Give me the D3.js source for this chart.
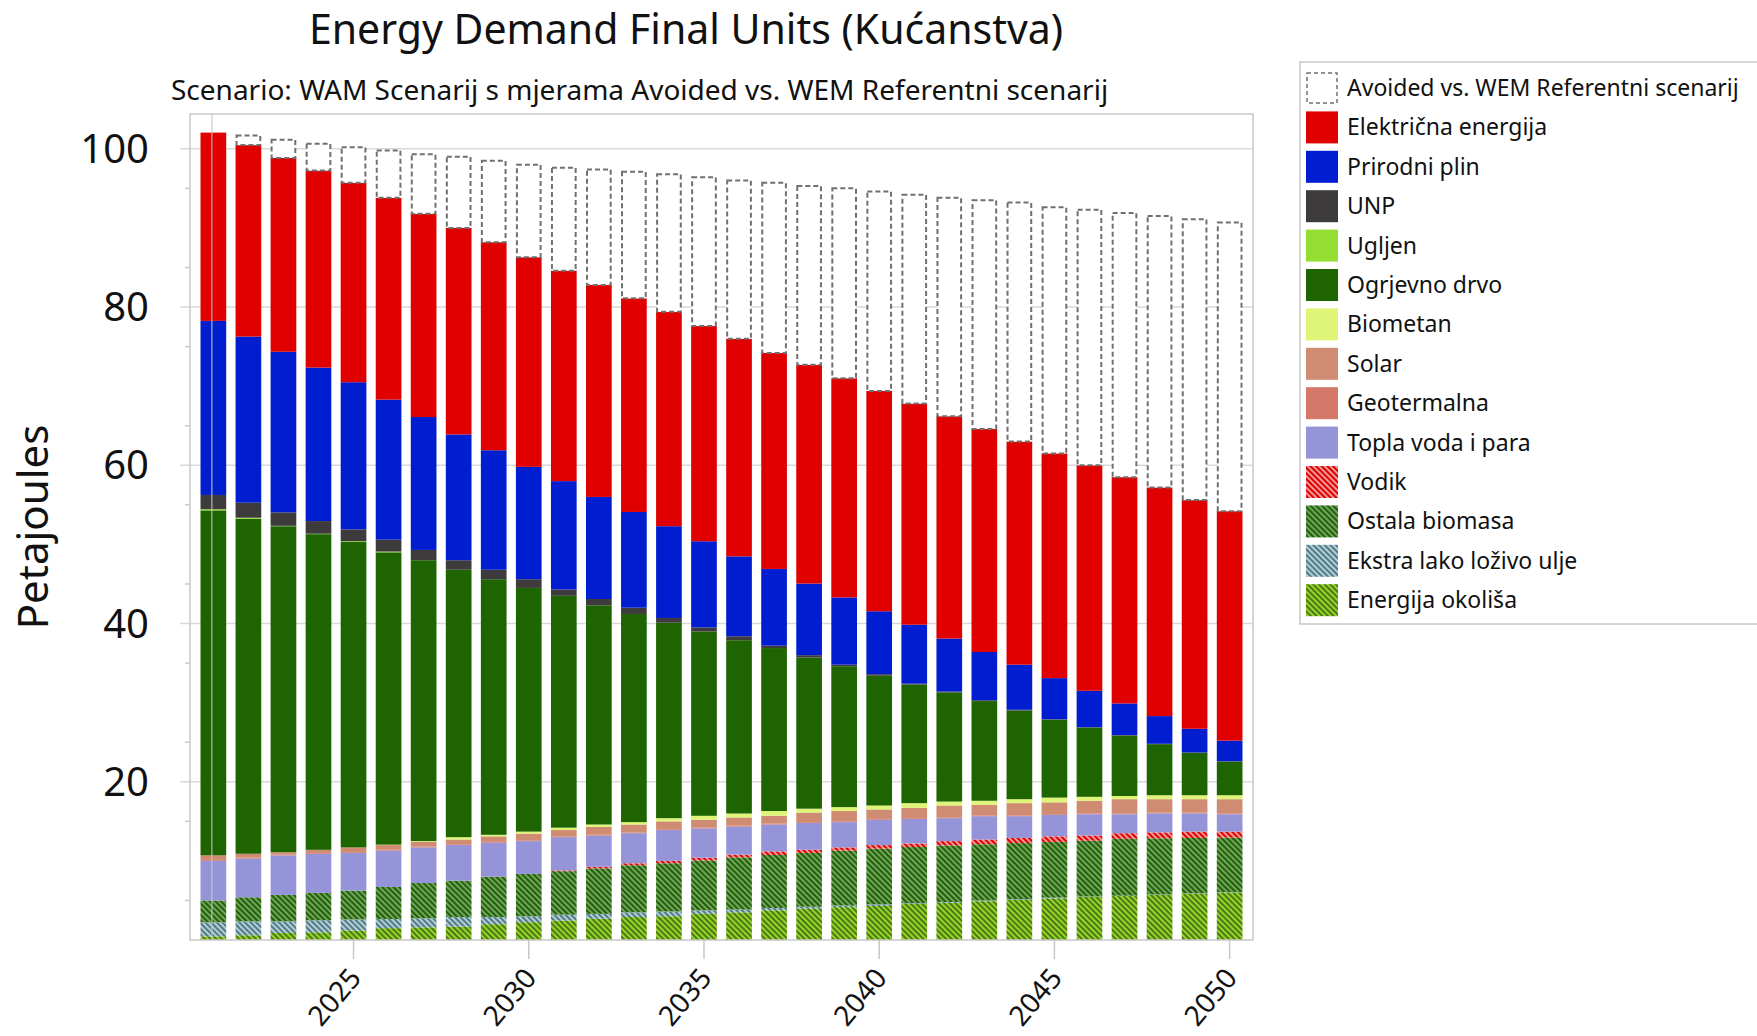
<!DOCTYPE html>
<html>
<meta charset="utf-8">
<head>
    <script src="https://d3js.org/d3.v7.min.js"></script>
    <style>
        body { margin: 0; background: white; }
        text { font-family: "Noto Sans", "Open Sans", sans-serif; fill: #111; }
    </style>
</head>
<body>
    <script>

        var years = [2021, 2022, 2023, 2024, 2025, 2026, 2027, 2028, 2029, 2030,
                     2031, 2032, 2033, 2034, 2035, 2036, 2037, 2038, 2039, 2040,
                     2041, 2042, 2043, 2044, 2045, 2046, 2047, 2048, 2049, 2050];

        // values in PJ
        var okolis   = [0.46,0.6,0.9,0.97,1.2,1.5,1.6,1.7,2.0,2.25,2.45,2.7,2.9,3.0,3.3,3.5,3.75,3.95,4.15,4.3,4.55,4.7,4.9,5.05,5.25,5.45,5.55,5.7,5.85,6.0];
        var ekstra   = [1.78,1.76,1.46,1.53,1.4,1.15,1.15,1.2,0.9,0.75,0.75,0.6,0.6,0.6,0.45,0.34,0.3,0.25,0.2,0.2,0.1,0.1,0.1,0.1,0.1,0.05,0.05,0.05,0.05,0.05];
        var ostala   = [2.76,3.04,3.34,3.45,3.65,4.05,4.45,4.6,5.1,5.35,5.5,5.75,5.95,6.1,6.3,6.6,6.7,6.8,6.95,7.05,7.1,7.15,7.1,7.1,7.05,7.05,7.2,7.1,7.0,6.9];
        var vodik    = [0,0,0,0,0,0,0,0,0,0,0.1,0.2,0.25,0.3,0.35,0.35,0.45,0.4,0.4,0.45,0.45,0.55,0.6,0.65,0.7,0.65,0.7,0.75,0.8,0.75];
        var topla    = [5.0,4.9,5.0,4.95,4.75,4.6,4.5,4.5,4.3,4.15,4.2,3.95,3.8,3.9,3.7,3.55,3.4,3.4,3.2,3.2,3.1,2.9,2.95,2.75,2.7,2.7,2.4,2.4,2.3,2.2];
        var geo      = [0.1,0.1,0.1,0.1,0.1,0.1,0.1,0.1,0.1,0.1,0.1,0.1,0.1,0.1,0.1,0.1,0.1,0.1,0.1,0.1,0.1,0.1,0.1,0.1,0.1,0.1,0.1,0.1,0.1,0.1];
        var solar    = [0.6,0.5,0.3,0.4,0.6,0.6,0.6,0.6,0.7,0.85,0.8,1.0,1.0,1.0,1.0,1.05,1.0,1.2,1.3,1.2,1.3,1.5,1.35,1.55,1.5,1.6,1.8,1.7,1.7,1.8];
        var biometan = [0,0,0,0,0,0.05,0.1,0.3,0.2,0.25,0.3,0.3,0.3,0.4,0.5,0.5,0.6,0.5,0.5,0.5,0.6,0.5,0.5,0.5,0.6,0.5,0.4,0.5,0.5,0.5];
        var drvo     = [43.6,42.35,41.2,39.9,38.6,36.95,35.5,33.8,32.3,30.8,29.3,27.7,26.3,24.7,23.3,21.9,20.6,19.1,17.8,16.4,15.0,13.8,12.6,11.2,9.85,8.75,7.65,6.45,5.35,4.25];
        var ugljen   = [0.15,0.12,0.05,0.05,0.1,0.1,0,0,0,0,0,0,0,0,0,0,0,0,0,0,0,0,0,0,0,0,0,0,0,0];
        var unp      = [1.8,1.9,1.7,1.6,1.5,1.5,1.3,1.2,1.2,1.1,0.8,0.8,0.8,0.6,0.5,0.5,0.3,0.3,0.2,0.2,0.1,0.1,0.1,0.1,0.05,0.05,0.05,0.05,0.05,0.05];
        var plin     = [22.0,21.0,20.3,19.4,18.6,17.7,16.8,15.9,15.1,14.2,13.7,12.9,12.1,11.6,10.9,10.1,9.7,9.05,8.5,7.95,7.45,6.7,6.1,5.7,5.2,4.6,4.0,3.5,3.0,2.6];
        var struja   = [23.8,24.2,24.5,24.9,25.2,25.5,25.7,26.1,26.3,26.5,26.6,26.8,27.0,27.1,27.2,27.5,27.3,27.65,27.7,27.85,27.95,28.1,28.2,28.2,28.4,28.5,28.6,28.9,28.9,29.0];
        var avoided  = [0,1.2,2.3,3.4,4.5,6.0,7.5,9.0,10.3,11.7,13.0,14.6,16.0,17.4,18.8,20.0,21.5,22.6,24.0,25.2,26.4,27.6,28.9,30.2,31.1,32.3,33.4,34.3,35.5,36.5];

        var yTicks = [20, 40, 60, 80, 100];
        var xTicks = [2025, 2030, 2035, 2040, 2045, 2050];

        // stack order, bottom to top
        var series = [
            {key: "Energija okoliša",        values: okolis,   color: "#94d52a", hatch: "#1f3a05"},
            {key: "Ekstra lako loživo ulje", values: ekstra,   color: "#a8d3de", hatch: "#2a3a40"},
            {key: "Ostala biomasa",          values: ostala,   color: "#1e6400", hatch: "rgba(255,255,255,0.65)"},
            {key: "Vodik",                   values: vodik,    color: "#e00000", hatch: "#ffffff"},
            {key: "Topla voda i para",       values: topla,    color: "#9694d8"},
            {key: "Geotermalna",             values: geo,      color: "#d4786a"},
            {key: "Solar",                   values: solar,    color: "#d08c73"},
            {key: "Biometan",                values: biometan, color: "#dff577"},
            {key: "Ogrjevno drvo",           values: drvo,     color: "#1e6400"},
            {key: "Ugljen",                  values: ugljen,   color: "#94de32"},
            {key: "UNP",                     values: unp,      color: "#3d3b3c"},
            {key: "Prirodni plin",           values: plin,     color: "#001ecf"},
            {key: "Električna energija",     values: struja,   color: "#e00000"}
        ];

        var width = 1757,
            height = 1036,
            plotL = 190, plotR = 1253, plotT = 114, plotB = 940;

        var svg = d3.select("body").append("svg")
            .attr("width", width)
            .attr("height", height);

        var defs = svg.append("defs");
        series.forEach(function(s, i) {
            if (!s.hatch) return;
            var p = defs.append("pattern")
                .attr("id", "hatch" + i)
                .attr("patternUnits", "userSpaceOnUse")
                .attr("width", 4)
                .attr("height", 4)
                .attr("patternTransform", "rotate(-45)");
            p.append("rect").attr("width", 4).attr("height", 4).attr("fill", s.color);
            p.append("line")
                .attr("x1", 1).attr("y1", 0).attr("x2", 1).attr("y2", 4)
                .attr("stroke", s.hatch)
                .attr("stroke-width", 1.2);
        });
        function fillOf(s, i) { return s.hatch ? "url(#hatch" + i + ")" : s.color; }

        var rows = years.map(function(y, i) {
            var r = {year: y};
            series.forEach(function(s) { r[s.key] = s.values[i]; });
            return r;
        });

        var stack = d3.stack().keys(series.map(function(s) { return s.key; }));
        var layers = stack(rows);

        var x = d3.scaleBand()
            .domain(years)
            .range([plotL, plotR])
            .paddingInner(0.267)
            .paddingOuter(0.3);

        var y = d3.scaleLinear()
            .domain([0, 104.4])
            .range([plotB, plotT]);

        // grid
        var g = svg.append("g");
        g.selectAll("line.grid")
            .data(yTicks)
            .enter()
            .append("line")
            .attr("x1", plotL - 10)
            .attr("x2", plotR)
            .attr("y1", function(d) { return y(d); })
            .attr("y2", function(d) { return y(d); })
            .attr("stroke", "#d9d9d9")
            .attr("stroke-width", 1.5);

        // minor ticks
        var minor = d3.range(5, 105, 10);
        g.selectAll("line.minor")
            .data(minor)
            .enter()
            .append("line")
            .attr("x1", plotL - 5)
            .attr("x2", plotL)
            .attr("y1", function(d) { return y(d); })
            .attr("y2", function(d) { return y(d); })
            .attr("stroke", "#c8c8c8")
            .attr("stroke-width", 1.5);

        // bars
        layers.forEach(function(layer, i) {
            g.append("g")
                .selectAll("rect")
                .data(layer.filter(function(d) { return d[1] - d[0] > 0; }))
                .enter()
                .append("rect")
                .attr("x", function(d) { return x(d.data.year); })
                .attr("width", x.bandwidth())
                .attr("y", function(d) { return y(d[1]); })
                .attr("height", function(d) { return y(d[0]) - y(d[1]); })
                .attr("fill", fillOf(series[i], i));
        });

        // avoided vs reference (dashed boxes)
        var totals = rows.map(function(r, i) {
            return {year: r.year, total: layers[layers.length - 1][i][1], avoided: avoided[i]};
        });
        g.selectAll("rect.avoided")
            .data(totals.filter(function(d) { return d.avoided > 0; }))
            .enter()
            .append("rect")
            .attr("x", function(d) { return x(d.year) + 1; })
            .attr("width", x.bandwidth() - 2)
            .attr("y", function(d) { return y(d.total + d.avoided); })
            .attr("height", function(d) { return y(d.total) - y(d.total + d.avoided); })
            .attr("fill", "white")
            .attr("stroke", "#707070")
            .attr("stroke-width", 2)
            .attr("stroke-dasharray", "5,3");

        // faint line through the first bar
        g.append("line")
            .attr("x1", x(2021) + x.bandwidth() / 2 - 1.5)
            .attr("x2", x(2021) + x.bandwidth() / 2 - 1.5)
            .attr("y1", plotT)
            .attr("y2", plotB)
            .attr("stroke", "rgba(200,200,200,0.7)")
            .attr("stroke-width", 1.5);

        // frame
        svg.append("rect")
            .attr("x", plotL)
            .attr("y", plotT)
            .attr("width", plotR - plotL)
            .attr("height", plotB - plotT)
            .attr("fill", "none")
            .attr("stroke", "#c8c8c8")
            .attr("stroke-width", 1.5);

        // y labels
        svg.selectAll("text.ytick")
            .data(yTicks)
            .enter()
            .append("text")
            .attr("x", 149)
            .attr("y", function(d) { return y(d); })
            .attr("dy", "0.35em")
            .attr("text-anchor", "end")
            .style("font-size", "40px")
            .text(function(d) { return d; });

        svg.append("text")
            .attr("transform", "translate(48,527) rotate(-90)")
            .attr("text-anchor", "middle")
            .style("font-size", "42px")
            .text("Petajoules");

        // x ticks and labels
        svg.selectAll("line.xtick")
            .data(xTicks)
            .enter()
            .append("line")
            .attr("x1", function(d) { return x(d) + x.bandwidth() / 2; })
            .attr("x2", function(d) { return x(d) + x.bandwidth() / 2; })
            .attr("y1", plotB)
            .attr("y2", plotB + 19)
            .attr("stroke", "#c8c8c8")
            .attr("stroke-width", 1.5);

        svg.selectAll("text.xtick")
            .data(xTicks)
            .enter()
            .append("text")
            .attr("transform", function(d) {
                return "translate(" + (x(d) + x.bandwidth() / 2 - 6) + "," + (plotB + 26) + ") rotate(-50)";
            })
            .attr("text-anchor", "end")
            .attr("dy", "0.7em")
            .style("font-size", "28px")
            .text(function(d) { return d; });

        // titles
        svg.append("text")
            .attr("x", 686)
            .attr("y", 44)
            .attr("text-anchor", "middle")
            .style("font-size", "41px")
            .text("Energy Demand Final Units (Kućanstva)");

        svg.append("text")
            .attr("x", 171)
            .attr("y", 100)
            .style("font-size", "28px")
            .text("Scenario: WAM Scenarij s mjerama Avoided vs. WEM Referentni scenarij");

        // legend
        var legendItems = [{key: "Avoided vs. WEM Referentni scenarij", dashed: true}];
        for (var i = series.length - 1; i >= 0; i--) {
            legendItems.push({key: series[i].key, fill: fillOf(series[i], i)});
        }

        var lg = svg.append("g");
        lg.append("rect")
            .attr("x", 1300)
            .attr("y", 62)
            .attr("width", 480)
            .attr("height", 562)
            .attr("fill", "white")
            .attr("stroke", "#c8c8c8")
            .attr("stroke-width", 1.5);

        var item = lg.selectAll("g.item")
            .data(legendItems)
            .enter()
            .append("g")
            .attr("transform", function(d, i) { return "translate(1306," + (72 + i * 39.4) + ")"; });

        item.append("rect")
            .attr("x", function(d) { return d.dashed ? 1 : 0; })
            .attr("y", function(d) { return d.dashed ? 1 : 0; })
            .attr("width", function(d) { return d.dashed ? 30 : 32; })
            .attr("height", function(d) { return d.dashed ? 30 : 32; })
            .attr("fill", function(d) { return d.dashed ? "white" : d.fill; })
            .attr("stroke", function(d) { return d.dashed ? "#707070" : "none"; })
            .attr("stroke-width", 1.5)
            .attr("stroke-dasharray", "4,3");

        item.append("text")
            .attr("x", 41)
            .attr("y", 16)
            .attr("dy", "0.35em")
            .style("font-size", "23px")
            .text(function(d) { return d.key; });

    </script>
</body>
</html>
